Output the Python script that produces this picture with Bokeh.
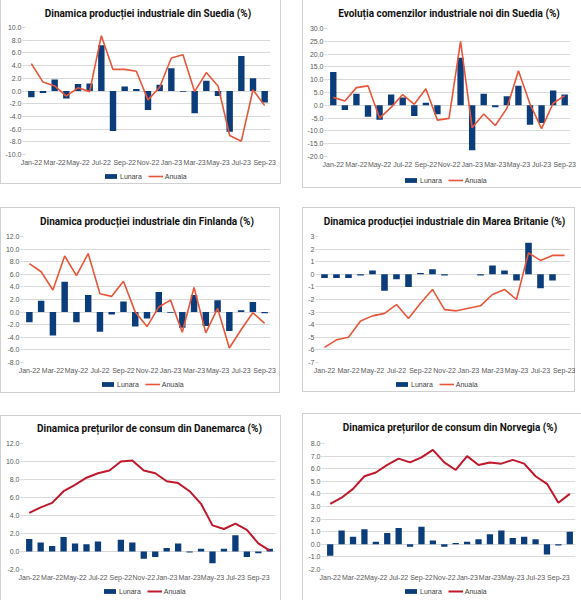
from bokeh.plotting import figure
from bokeh.models import (Range1d, FixedTicker, NumeralTickFormatter, Legend,
                          LegendItem, ColumnDataSource)
from bokeh.layouts import row, column
from bokeh.embed import file_html
from bokeh.resources import INLINE

# ---------------- data ----------------
MONTHS = ["Jan-22", "Feb-22", "Mar-22", "Apr-22", "May-22", "Jun-22", "Jul-22",
          "Aug-22", "Sep-22", "Oct-22", "Nov-22", "Dec-22", "Jan-23", "Feb-23",
          "Mar-23", "Apr-23", "May-23", "Jun-23", "Jul-23", "Aug-23", "Sep-23",
          "Oct-23"]
TICK_MONTHS = ["Jan-22", "Mar-22", "May-22", "Jul-22", "Sep-22", "Nov-22",
               "Jan-23", "Mar-23", "May-23", "Jul-23", "Sep-23"]
SERIES_NAMES = ["Lunara", "Anuala"]

# Dinamica productiei industriale din Suedia
se_ip_lunara = [-1.0, -0.3, 1.8, -1.2, 1.1, 1.2, 7.2, -6.3, 0.7, 0.3, -3.0, 1.0,
                3.6, -0.1, -3.5, 1.6, -0.8, -6.4, 5.5, 2.0, -1.8]
se_ip_anuala = [4.3, 1.4, 0.8, -0.8, 0.5, -0.1, 8.7, 3.4, 3.4, 3.1, -1.4, 0.6,
                5.2, 5.7, -0.1, 2.9, 0.8, -7.0, -7.9, 0.2, -2.3]
se_ip_yticks = [-10, -8, -6, -4, -2, 0, 2, 4, 6, 8, 10]

# Evolutia comenzilor industriale noi din Suedia
se_ord_lunara = [13.0, -1.8, 4.5, -4.5, -5.6, 4.2, 3.0, -4.2, 1.0, -3.5, 0.0, 18.6,
                 -17.6, 4.5, -0.8, 3.5, 7.6, -7.6, -6.9, 5.8, 4.2]
se_ord_anuala = [3.1, 1.7, 6.9, 7.6, -5.0, -0.8, 4.2, 0.4, 6.5, -5.8, -5.1, 25.0,
                 -8.8, -3.4, -7.9, -1.2, 13.5, 0.5, -9.1, 0.8, 3.8]
se_ord_yticks = [-20, -15, -10, -5, 0, 5, 10, 15, 20, 25, 30]

# Dinamica productiei industriale din Finlanda
fi_ip_lunara = [-1.6, 1.8, -3.7, 4.8, -1.6, 2.7, -3.1, -0.4, 1.7, -2.3, -1.0, 3.2,
                -0.1, -2.5, 2.7, -2.2, 1.9, -3.0, 0.3, 1.6, -0.2]
fi_ip_anuala = [7.7, 6.4, 3.5, 8.9, 5.8, 9.3, 2.9, 2.5, 4.9, 0.0, -2.3, 0.8,
                1.9, -3.2, 3.9, -3.3, 0.6, -5.7, -2.8, -0.1, -1.8]
fi_ip_yticks = [-8, -6, -4, -2, 0, 2, 4, 6, 8, 10, 12]

# Dinamica productiei industriale din Marea Britanie
uk_ip_lunara = [-0.3, -0.3, -0.3, -0.1, 0.3, -1.3, -0.4, -1.0, 0.1, 0.4, -0.1, 0.0,
                0.0, -0.1, 0.7, 0.3, -0.5, 2.5, -1.1, -0.5, 0.0]
uk_ip_anuala = [-5.8, -5.2, -5.0, -3.7, -3.3, -3.1, -2.4, -3.5, -2.3, -1.2, -2.8, -2.9,
                -2.7, -2.5, -1.6, -1.2, -2.0, 1.7, 1.1, 1.5, 1.5]
uk_ip_yticks = [-7, -6, -5, -4, -3, -2, -1, 0, 1, 2, 3]

# Dinamica preturilor de consum din Danemarca
dk_cpi_lunara = [1.4, 1.0, 0.6, 1.6, 0.9, 0.8, 1.1, 0.0, 1.3, 1.0, -0.8, -0.6,
                 0.4, 0.9, -0.1, 0.3, -1.3, 0.3, 1.8, -0.6, -0.2, 0.3]
dk_cpi_anuala = [4.3, 4.9, 5.4, 6.7, 7.4, 8.2, 8.7, 9.0, 10.0, 10.1, 9.0, 8.7,
                 7.8, 7.6, 6.7, 5.3, 2.9, 2.5, 3.1, 2.4, 0.9, 0.1]
dk_cpi_yticks = [-2, 0, 2, 4, 6, 8, 10, 12]

# Dinamica preturilor de consum din Norvegia
no_cpi_lunara = [-0.9, 1.1, 0.6, 1.2, 0.2, 0.9, 1.3, -0.2, 1.4, 0.3, -0.2, 0.1,
                 0.2, 0.4, 0.8, 1.1, 0.5, 0.6, 0.4, -0.8, -0.1, 1.0]
no_cpi_anuala = [3.2, 3.7, 4.4, 5.4, 5.7, 6.3, 6.8, 6.5, 6.9, 7.5, 6.5, 5.9,
                 7.0, 6.3, 6.5, 6.4, 6.7, 6.4, 5.4, 4.8, 3.3, 4.0]
no_cpi_yticks = [-2, -1, 0, 1, 2, 3, 4, 5, 6, 7, 8]

NAVY = "#0B3D7B"
ORANGE = "#E8563A"
DARKRED = "#C0182C"
GRID = "#D9D9D9"
LABEL = "#595959"
BORDER = "#D0D0D0"
AXIS_BAND = 14      # room under the plot area for the month labels
LEGEND_W = 84


def panel(title, lunara, anuala, yticks, yfmt, line_color, line_width, g, sides):
    n = len(lunara)
    src = ColumnDataSource(dict(x=list(range(n)), lunara=lunara, anuala=anuala))
    fl, fw, ft, fh, W, H = g["fl"], g["fw"], g["ft"], g["fh"], g["W"], g["H"]
    hc = ft + fh + AXIS_BAND
    p = figure(width=W, height=hc,
               min_border_left=fl, min_border_right=W - fl - fw,
               min_border_top=ft, min_border_bottom=AXIS_BAND,
               x_range=Range1d(-0.5, n - 0.5),
               y_range=Range1d(yticks[0], yticks[-1]),
               output_backend="svg", toolbar_location=None)
    p.outline_line_color = None
    p.border_fill_color = None

    p.vbar(x="x", top="lunara", bottom=0, width=0.55, source=src,
           fill_color=NAVY, line_color=None)
    p.line(x="x", y="anuala", source=src, line_color=line_color,
           line_width=line_width)

    # title
    p.title.text = title
    p.title.align = "center"
    p.title.vertical_align = "top"
    p.title.text_font = "Roboto"
    p.title.text_font_style = "bold"
    p.title.text_font_size = "10px"
    p.title.text_color = "#111111"
    p.title.standoff = ft - 13

    # axes
    tick_idx = [MONTHS.index(m) for m in TICK_MONTHS]
    xa = p.xaxis[0]
    xa.ticker = FixedTicker(ticks=tick_idx)
    xa.major_label_overrides = {i: MONTHS[i] for i in tick_idx}
    xa.axis_line_color = None
    xa.major_tick_line_color = None
    xa.major_tick_out = 0
    xa.major_tick_in = 0
    xa.minor_tick_line_color = None
    xa.major_label_standoff = 4
    xa.major_label_text_font = "Liberation Sans"
    xa.major_label_text_font_size = "7px"
    xa.major_label_text_color = LABEL

    ya = p.yaxis[0]
    ya.ticker = FixedTicker(ticks=yticks)
    ya.formatter = NumeralTickFormatter(format=yfmt)
    ya.axis_line_color = None
    ya.major_tick_line_color = GRID
    ya.major_tick_out = 3
    ya.major_tick_in = 0
    ya.minor_tick_line_color = None
    ya.major_label_standoff = 1
    ya.major_label_text_font = "Liberation Sans"
    ya.major_label_text_font_size = "7px"
    ya.major_label_text_color = LABEL

    p.xgrid.visible = False
    p.ygrid.ticker = FixedTicker(ticks=yticks)
    p.ygrid.grid_line_color = GRID
    p.ygrid.grid_line_width = 1

    # legend strip under the chart: its own small canvas; its key renderers are
    # hidden so only the legend (keys + labels) shows
    hl = H - hc
    lg = figure(width=W, height=hl, min_border=0,
                x_range=Range1d(-0.5, n - 0.5),
                y_range=Range1d(yticks[0], yticks[-1]),
                x_axis_type=None, y_axis_type=None,
                output_backend="svg", toolbar_location=None)
    lg.outline_line_color = None
    lg.border_fill_color = None
    lg.background_fill_color = None
    lg.grid.visible = False
    kb = lg.vbar(x="x", top="lunara", bottom=0, width=0.55, source=src,
                 fill_color=NAVY, line_color=None)
    kl = lg.line(x="x", y="anuala", source=src, line_color=line_color,
                 line_width=line_width)
    kb.visible = False
    kl.visible = False
    vy = hl - g["ld"] + 12
    leg = Legend(items=[LegendItem(label=SERIES_NAMES[0], renderers=[kb]),
                        LegendItem(label=SERIES_NAMES[1], renderers=[kl])],
                 orientation="horizontal",
                 location=(g["lcx"] - LEGEND_W // 2 - 21, vy),
                 glyph_width=15, glyph_height=6, label_standoff=2, spacing=6,
                 padding=0, margin=0, label_height=8,
                 label_text_font="Liberation Sans", label_text_font_size="7px",
                 label_text_color="#404040", background_fill_alpha=0,
                 border_line_alpha=0, inactive_fill_alpha=0)
    lg.add_layout(leg)

    box = column(p, lg, spacing=0)
    shadows = []
    if "l" in sides:
        shadows.append(f"inset 1px 0 0 {BORDER}")
    if "r" in sides:
        shadows.append(f"inset -1px 0 0 {BORDER}")
    if "t" in sides:
        shadows.append(f"inset 0 1px 0 {BORDER}")
    if "b" in sides:
        shadows.append(f"inset 0 -1px 0 {BORDER}")
    box.styles = {"box-shadow": ", ".join(shadows)}
    return box


G1 = dict(W=281, H=184, fl=25, fw=245, ft=27, fh=127, lcx=141, ld=24)
G2 = dict(W=279, H=188, fl=25, fw=243, ft=28, fh=128, lcx=139, ld=26)
G3 = dict(W=280, H=186, fl=23, fw=247, ft=29, fh=126, lcx=140, ld=24)
G4 = dict(W=273, H=185, fl=16, fw=252, ft=29, fh=126, lcx=139, ld=24)
G5 = dict(W=281, H=185, fl=23, fw=252, ft=28, fh=126, lcx=142, ld=24)
G6 = dict(W=279, H=187, fl=22, fw=251, ft=30, fh=126, lcx=142, ld=24)

c1 = panel("Dinamica producției industriale din Suedia (%)", se_ip_lunara, se_ip_anuala,
           se_ip_yticks, "0.0", ORANGE, 1.6, G1, "lrb")
c2 = panel("Evoluția comenzilor industriale noi din Suedia (%)", se_ord_lunara, se_ord_anuala,
           se_ord_yticks, "0.0", ORANGE, 1.6, G2, "lb")
c3 = panel("Dinamica producției industriale din Finlanda (%)", fi_ip_lunara, fi_ip_anuala,
           fi_ip_yticks, "0.0", ORANGE, 1.6, G3, "lrtb")
c4 = panel("Dinamica producției industriale din Marea Britanie (%)", uk_ip_lunara, uk_ip_anuala,
           uk_ip_yticks, "0", ORANGE, 1.6, G4, "lrtb")
c5 = panel("Dinamica prețurilor de consum din Danemarca (%)", dk_cpi_lunara, dk_cpi_anuala,
           dk_cpi_yticks, "0.0", DARKRED, 2, G5, "lrt")
c6 = panel("Dinamica prețurilor de consum din Norvegia (%)", no_cpi_lunara, no_cpi_anuala,
           no_cpi_yticks, "0.0", DARKRED, 2, G6, "lt")

c2.margin = (0, 0, 0, 21)
c3.margin = (19, 0, 0, 0)
c4.margin = (19, 0, 0, 22)
c5.margin = (22, 0, 0, 0)
c6.margin = (20, 0, 0, 21)

root = column(row(c1, c2), row(c3, c4), row(c5, c6))

open("out.html", "w").write(file_html(root, INLINE))
